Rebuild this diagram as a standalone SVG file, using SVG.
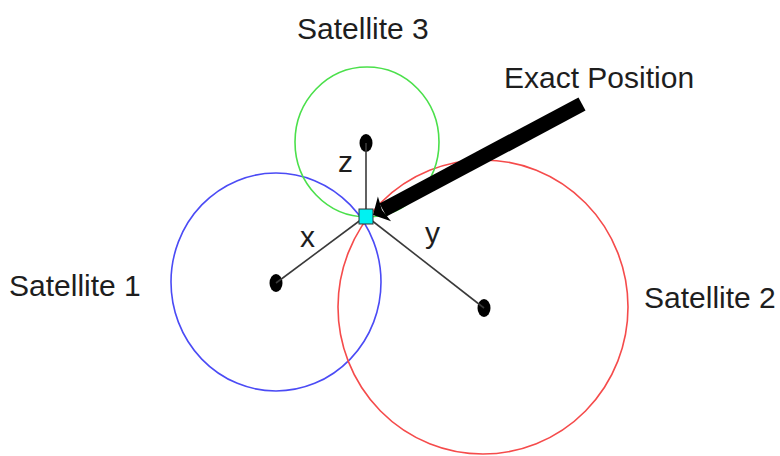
<svg xmlns="http://www.w3.org/2000/svg" width="780" height="456" viewBox="0 0 780 456">
<style>
  text { font-family: "Liberation Sans", Arial, sans-serif; font-size: 30px; fill: #1e1e1e; }
  .ring { fill: none; stroke-width: 1.6; }
  .dot { fill: #000; }
  .conn { stroke: #3a3a3a; stroke-width: 1.6; fill: none; }
</style>
<rect width="780" height="456" fill="#fff"/>
<g id="satellite1">
  <ellipse class="ring" cx="276" cy="282" rx="105" ry="109" stroke="#4b4bf5"/>
  <ellipse class="dot" cx="276" cy="283" rx="6.5" ry="9"/>
  <text x="9" y="296">Satellite 1</text>
</g>
<g id="satellite2">
  <ellipse class="ring" cx="483" cy="307" rx="145" ry="147" stroke="#f54b4b"/>
  <ellipse class="dot" cx="484" cy="308" rx="6.5" ry="9"/>
  <text x="644" y="308">Satellite 2</text>
</g>
<g id="satellite3">
  <ellipse class="ring" cx="367" cy="142" rx="72" ry="75" stroke="#4be04b"/>
  <ellipse class="dot" cx="366" cy="143" rx="6.5" ry="9"/>
  <text x="297" y="39">Satellite 3</text>
</g>
<g id="connectors">
  <line class="conn" x1="366" y1="216" x2="276" y2="283"/>
  <line class="conn" x1="366" y1="216" x2="484" y2="308"/>
  <line class="conn" x1="366" y1="216" x2="366" y2="143"/>
  <text x="300" y="247">x</text>
  <text x="425" y="243">y</text>
  <text x="338" y="172">z</text>
</g>
<g id="position">
  <rect x="359" y="209" width="14" height="15" fill="#00f2f2" stroke="#333" stroke-width="1"/>
</g>
<g id="exact-position">
  <text x="504" y="88">Exact Position</text>
  <line x1="582" y1="104" x2="383" y2="210" stroke="#000" stroke-width="15"/>
  <polygon points="373,215 377.9,196.5 382,210 391.1,221.3" fill="#000"/>
</g>
</svg>
